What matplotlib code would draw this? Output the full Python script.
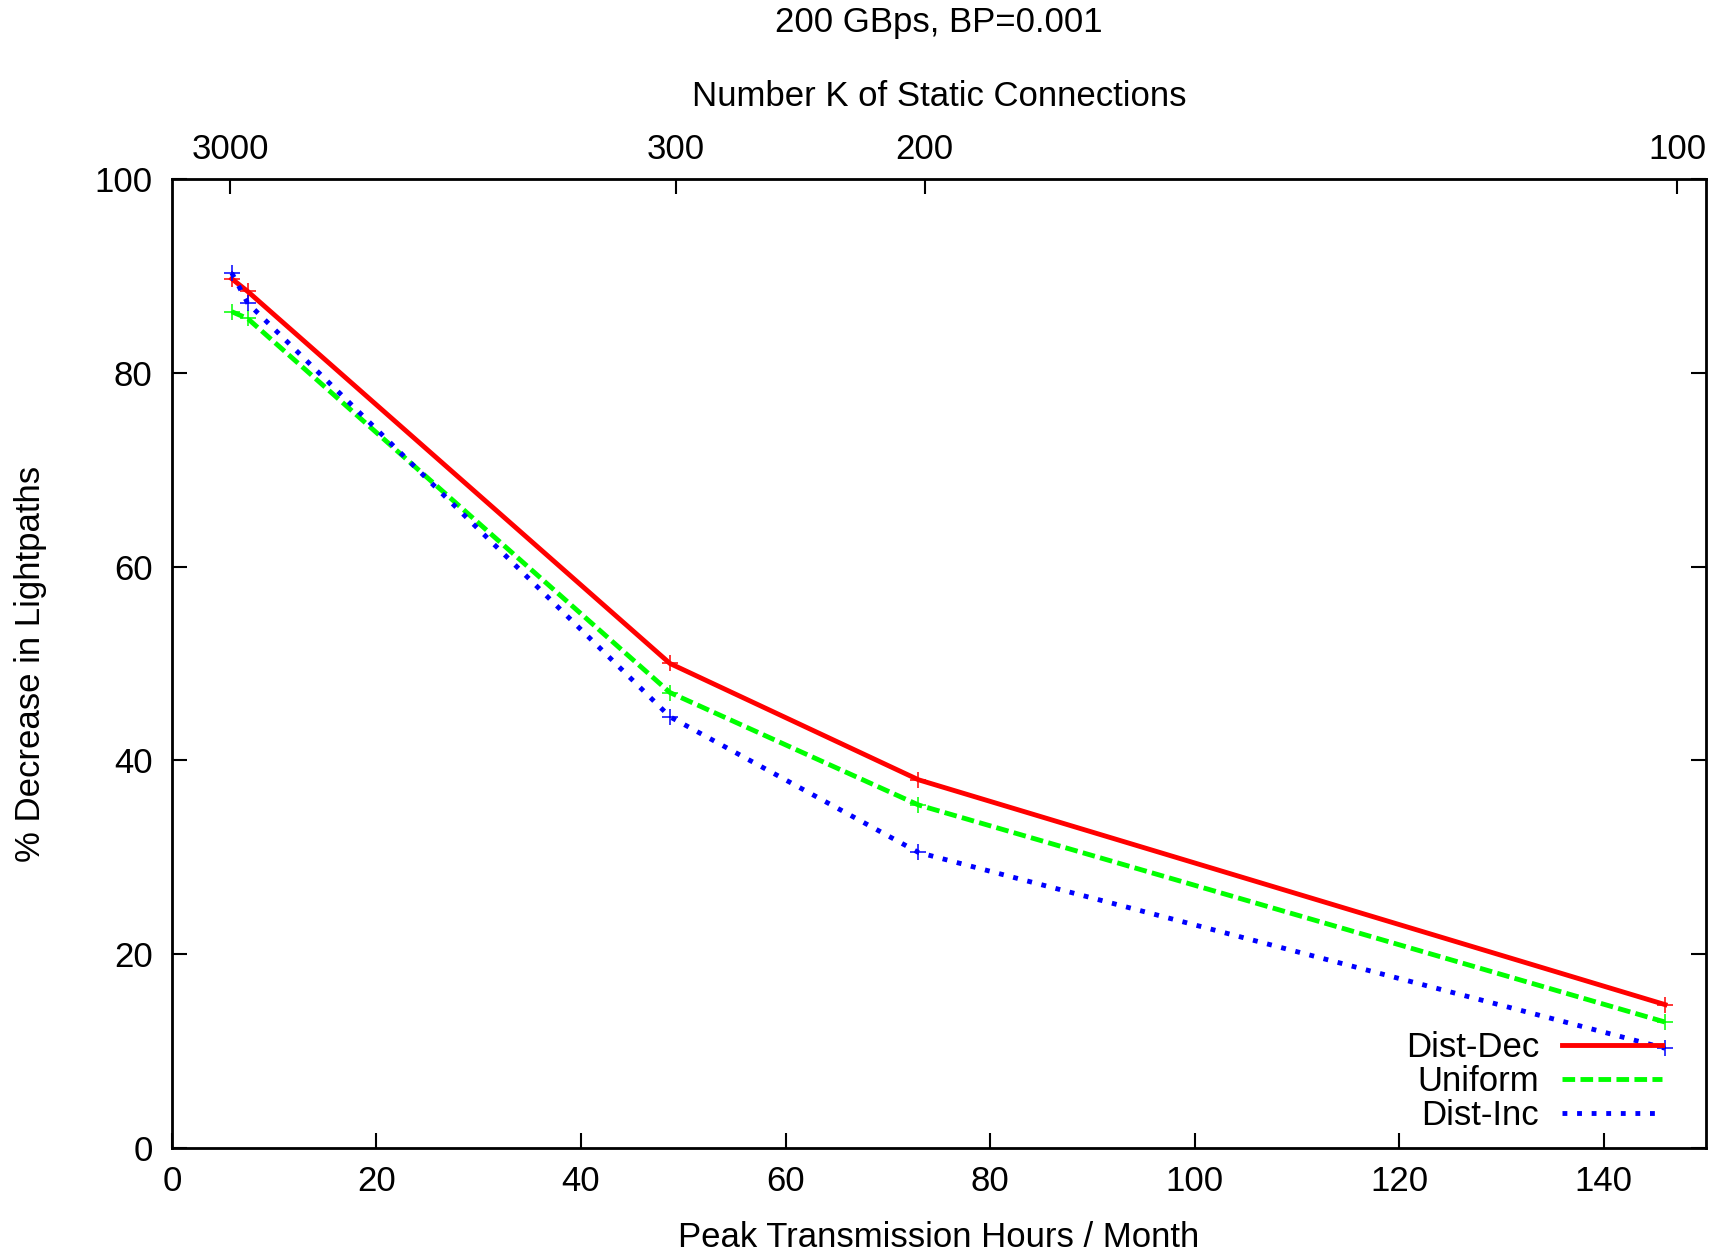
import matplotlib.pyplot as plt
from matplotlib.lines import Line2D

plt.rcParams['font.family'] = ['Liberation Sans', 'DejaVu Sans']

# peak transmission hours per month for each run
hours = [5.85, 7.4, 48.7, 73.0, 146.0]
dist_dec = [89.7, 88.4, 50.0, 38.0, 14.8]
uniform = [86.3, 85.6, 47.0, 35.4, 13.0]
dist_inc = [90.3, 87.2, 44.5, 30.5, 10.3]

# number of static connections shown on the top axis
conn_pos = [5.67, 49.3, 73.6, 147.2]
conn_labels = ['3000', '300', '200', '100']

FS = 25

fig = plt.figure(figsize=(17.23, 12.54), dpi=100)
ax = fig.add_axes([0.0998, 0.0845, 0.8903, 0.7728])

lw = 3.5
ax.plot(hours, dist_dec, color='#ff0000', lw=lw, marker='+', ms=12, mew=1.1)
ax.plot(hours, uniform, color='#00ff00', lw=lw, marker='+', ms=12, mew=1.1,
        dashes=(2.6, 1.1))
ax.plot(hours, dist_inc, color='#0000ff', lw=lw, marker='+', ms=12, mew=1.1,
        dashes=(1.0, 2.0))

ax.set_xlim(0, 150)
ax.set_ylim(0, 100)
ax.set_xticks(range(0, 141, 20))
ax.set_yticks(range(0, 101, 20))
ax.tick_params(axis='both', direction='in', length=11, width=1.5, labelsize=FS)
ax.tick_params(axis='x', pad=12)
ax.tick_params(axis='y', right=True, pad=14)
for s in ax.spines.values():
    s.set_linewidth(2.0)

ax.set_xlabel('Peak Transmission Hours / Month', fontsize=FS, labelpad=17)
ax.set_ylabel('% Decrease in Lightpaths', fontsize=FS, labelpad=34)

top = ax.twiny()
top.set_xlim(ax.get_xlim())
top.set_xticks(conn_pos)
top.set_xticklabels(conn_labels)
top.tick_params(axis='x', direction='in', length=11, width=1.5, labelsize=FS, pad=9)
top.set_xlabel('Number K of Static Connections', fontsize=FS, labelpad=20)

fig.text(0.545, 0.982, '200 GBps, BP=0.001', fontsize=FS, ha='center', va='center')

handles = [
    Line2D([], [], color='#ff0000', lw=lw),
    Line2D([], [], color='#00ff00', lw=lw, dashes=(2.6, 1.1)),
    Line2D([], [], color='#0000ff', lw=lw, dashes=(1.0, 2.0)),
]
ax.legend(handles, ['Dist-Dec', 'Uniform', 'Dist-Inc'], loc='lower right',
          frameon=False, markerfirst=False, fontsize=FS, handlelength=2.86,
          labelspacing=0.03, handletextpad=0.67, borderaxespad=0.3,
          bbox_to_anchor=(0.987, -0.009))

fig.savefig('out.png', dpi=100)
